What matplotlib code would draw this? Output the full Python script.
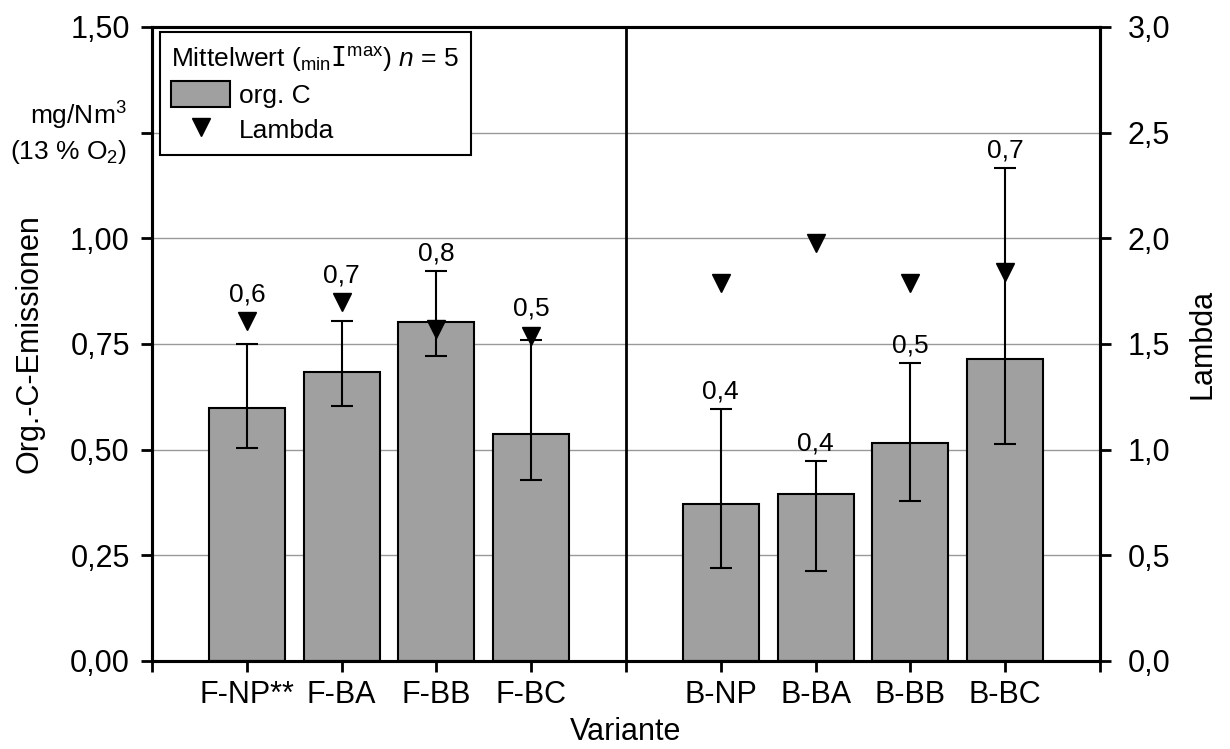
import matplotlib
matplotlib.use("Agg")
import matplotlib.pyplot as plt
from matplotlib.patches import Patch
from matplotlib.lines import Line2D
from matplotlib.ticker import FixedLocator

plt.rcParams["font.family"] = ["Liberation Sans", "DejaVu Sans"]
plt.rcParams["mathtext.fontset"] = "custom"
plt.rcParams["mathtext.rm"] = "Liberation Sans"
plt.rcParams["mathtext.it"] = "Liberation Sans:italic"
plt.rcParams["mathtext.tt"] = "DejaVu Sans Mono"

# org. C emissions (mg/Nm3 at 13 % O2), mean with min/max over n = 5 runs
variants = ["F-NP**", "F-BA", "F-BB", "F-BC", "B-NP", "B-BA", "B-BB", "B-BC"]
positions = [1, 2, 3, 4, 6, 7, 8, 9]
orgc_mean = [0.598, 0.683, 0.803, 0.538, 0.371, 0.396, 0.515, 0.714]
orgc_min = [0.504, 0.603, 0.722, 0.429, 0.219, 0.214, 0.379, 0.513]
orgc_max = [0.751, 0.805, 0.922, 0.760, 0.595, 0.473, 0.705, 1.166]
lambda_mean = [1.61, 1.70, 1.57, 1.54, 1.79, 1.98, 1.79, 1.84]

left_ticks = [0.0, 0.25, 0.5, 0.75, 1.0, 1.25, 1.5]
left_ticklabels = ["0,00", "0,25", "0,50", "0,75", "1,00", "", "1,50"]
right_ticks = [0.0, 0.5, 1.0, 1.5, 2.0, 2.5, 3.0]
right_ticklabels = ["0,0", "0,5", "1,0", "1,5", "2,0", "2,5", "3,0"]

BAR_GREY = "#a0a0a0"
TRI_SIZE = 13
SMALL = 19

fig = plt.figure(figsize=(12.3, 7.49), dpi=100)
ax = fig.add_axes([0.1236, 0.1175, 0.7707, 0.8465])
ax2 = ax.twinx()

yerr = [[m - lo for m, lo in zip(orgc_mean, orgc_min)],
        [hi - m for m, hi in zip(orgc_mean, orgc_max)]]
ax.bar(positions, orgc_mean, width=0.8, color=BAR_GREY, edgecolor="black",
       linewidth=1.5, zorder=2)
ax.errorbar(positions, orgc_mean, yerr=yerr, fmt="none", ecolor="black",
            elinewidth=1.5, capsize=8, capthick=1.5, zorder=3)
ax2.plot(positions, lambda_mean, linestyle="none", marker="v",
         markersize=TRI_SIZE, color="black", zorder=4)

# separator between the F and B groups
ax.axvline(5, color="black", linewidth=2, zorder=3)

ax.set_xlim(0, 10)
ax.set_ylim(0, 1.5)
ax2.set_ylim(0, 3.0)

ax.xaxis.set_major_locator(FixedLocator(range(11)))
xlabels = [""] * 11
for p, v in zip(positions, variants):
    xlabels[p] = v
ax.set_xticklabels(xlabels)

ax.set_yticks(left_ticks)
ax.set_yticklabels(left_ticklabels)
ax2.set_yticks(right_ticks)
ax2.set_yticklabels(right_ticklabels)

ax.set_axisbelow(True)
ax.yaxis.grid(True, color="#999999", linewidth=1)

for a in (ax, ax2):
    for s in a.spines.values():
        s.set_linewidth(2.2)
    a.tick_params(labelsize=22, length=8, width=2, direction="out", pad=8)
ax.tick_params(axis="x", pad=6)
ax2.tick_params(axis="y", pad=12)

ax.set_xlabel("Variante", fontsize=22, labelpad=5)
ax.set_ylabel("Org.-C-Emissionen", fontsize=22, labelpad=18)
ax2.set_ylabel("Lambda", fontsize=22, labelpad=12)

# unit in place of the 1,25 tick label
ax.annotate("mg/Nm$^3$\n(13 % O$_2$)", xy=(0, 1.25),
            xycoords=("axes fraction", "data"), xytext=(-18, 0),
            textcoords="offset points", ha="right", va="center",
            fontsize=SMALL, linespacing=1.3)

# mean labels above the caps, or above the triangle when it sits just over the cap
for p, m, hi, lam in zip(positions, orgc_mean, orgc_max, lambda_mean):
    txt = f"{m:.1f}".replace(".", ",")
    if lam / 2 > hi and lam / 2 - hi < 0.15:
        ax2.annotate(txt, xy=(p, lam), xytext=(0, TRI_SIZE / 2 + 4),
                     textcoords="offset points", ha="center", va="bottom",
                     fontsize=SMALL, zorder=5)
    else:
        ax.annotate(txt, xy=(p, hi), xytext=(0, 4),
                    textcoords="offset points", ha="center", va="bottom",
                    fontsize=SMALL, zorder=5)

handles = [Patch(facecolor=BAR_GREY, edgecolor="black", linewidth=1.5),
           Line2D([], [], linestyle="none", marker="v", markersize=TRI_SIZE,
                  color="black")]
leg = ax2.legend(handles, ["org. C", "Lambda"],
                 title=r"Mittelwert ($_{\mathrm{min}}\mathtt{I}^{\mathrm{max}}$) $n$ = 5",
                 loc="upper left", bbox_to_anchor=(0.008, 0.992),
                 fontsize=SMALL, title_fontsize=SMALL, alignment="left",
                 fancybox=False, framealpha=1, edgecolor="black",
                 borderpad=0.45, labelspacing=0.3, handlelength=2.2,
                 handleheight=1.15, handletextpad=0.35, borderaxespad=0)
leg.get_frame().set_linewidth(1.5)
leg.set_zorder(10)

fig.savefig("out.png", dpi=100)
